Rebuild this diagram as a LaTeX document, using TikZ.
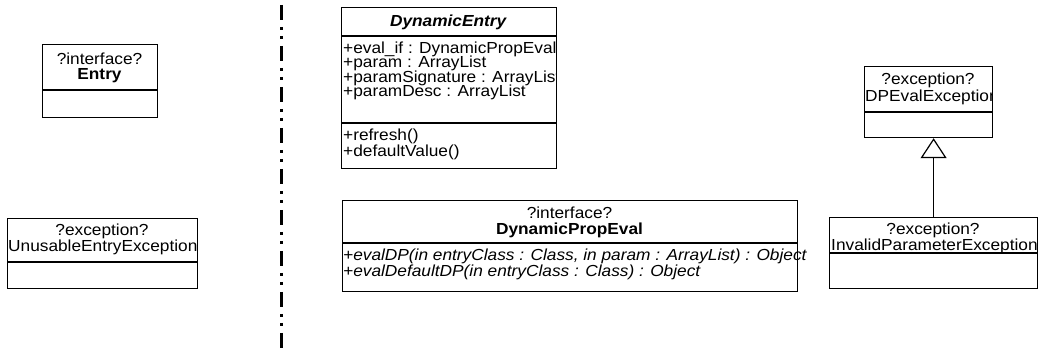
\documentclass[tikz,border=0pt]{standalone}
\usepackage{fontspec}
\setmainfont{Liberation Sans}[FakeStretch=1.08]
\usetikzlibrary{arrows.meta}
\begin{document}
\begin{tikzpicture}[x=1pt,y=-1pt,
  cls/.style={draw, line width=1.2pt, inner sep=0pt, anchor=north west},
  div/.style={line width=1.2pt},
  t/.style={inner sep=0pt, font=\fontsize{16}{14.2}\selectfont},
  tl/.style={t, anchor=west},
  sep/.style={line width=3pt, dash pattern=on 15pt off 7pt on 3pt off 6pt on 3pt off 7pt, dash phase=36pt},
  inh/.style={line width=1.2pt, -{Triangle[open,length=20pt,width=26pt,line width=1.2pt]}}
]
\useasboundingbox (0,0) rectangle (1053,352);

% separator
\coordinate (s1) at (281,0);
\coordinate (s2) at (281,352);
\draw[sep] (s1) -- (s2);

% Entry
\node[cls, minimum width=115pt, minimum height=73pt] (entry) at (42,44) {};
\draw[div] (42,90) -- (157,90);
\node[t] (entryst) at (99.5,59) {?interface?};
\node[t] (entryname) at (99.5,76) {\textbf{Entry}};

% UnusableEntryException
\node[cls, minimum width=190pt, minimum height=70pt] (uee) at (7,218) {};
\draw[div] (7,262) -- (197,262);
\node[t] (ueest) at (102,231) {?exception?};
\begin{scope}
\clip (7,218) rectangle (197,262);
\node[tl] (ueename) at (8,247.5) {UnusableEntryException};
\end{scope}

% DynamicEntry
\node[cls, minimum width=215pt, minimum height=161pt] (de) at (341,7) {};
\draw[div] (341,36) -- (556,36);
\draw[div] (341,123) -- (556,123);
\node[t] (dename) at (448.5,22) {\textbf{\itshape DynamicEntry}};
\begin{scope}
\clip (341,36) rectangle (556,123);
\node[tl] (dea1) at (343,49) {+eval\_if : DynamicPropEval};
\node[tl] (dea2) at (343,63.5) {+param : ArrayList};
\node[tl] (dea3) at (343,78) {+paramSignature : ArrayList};
\node[tl] (dea4) at (343,92.5) {+paramDesc : ArrayList};
\end{scope}
\node[tl] (dem1) at (343,136) {+refresh()};
\node[tl] (dem2) at (343,152) {+defaultValue()};

% DynamicPropEval
\node[cls, minimum width=455pt, minimum height=91pt] (dpv) at (342,200) {};
\draw[div] (342,243) -- (797,243);
\node[t] (dpvst) at (569.5,213) {?interface?};
\node[t] (dpvname) at (569.5,230) {\textbf{DynamicPropEval}};
\node[tl] (dpvm1) at (343,256) {\itshape +evalDP(in entryClass : Class, in param : ArrayList) : Object};
\node[tl] (dpvm2) at (343,272) {\itshape +evalDefaultDP(in entryClass : Class) : Object};

% DPEvalException
\node[cls, minimum width=128pt, minimum height=71pt] (dpe) at (864,66) {};
\draw[div] (864,112) -- (992,112);
\node[t] (dpest) at (928,80.5) {?exception?};
\begin{scope}
\clip (864,66) rectangle (992,112);
\node[tl] (dpename) at (865,97) {DPEvalException};
\end{scope}

% InvalidParameterException
\node[cls, minimum width=208pt, minimum height=71pt] (ipe) at (829,217) {};
\draw[div] (829,253) -- (1037,253);
\node[t] (ipest) at (933,230) {?exception?};
\begin{scope}
\clip (829,217) rectangle (1037,253);
\node[tl] (ipename) at (831,246) {InvalidParameterException};
\end{scope}

% inheritance
\draw[inh] (ipe.north) -- (ipe.north |- dpe.south);
\end{tikzpicture}
\end{document}
